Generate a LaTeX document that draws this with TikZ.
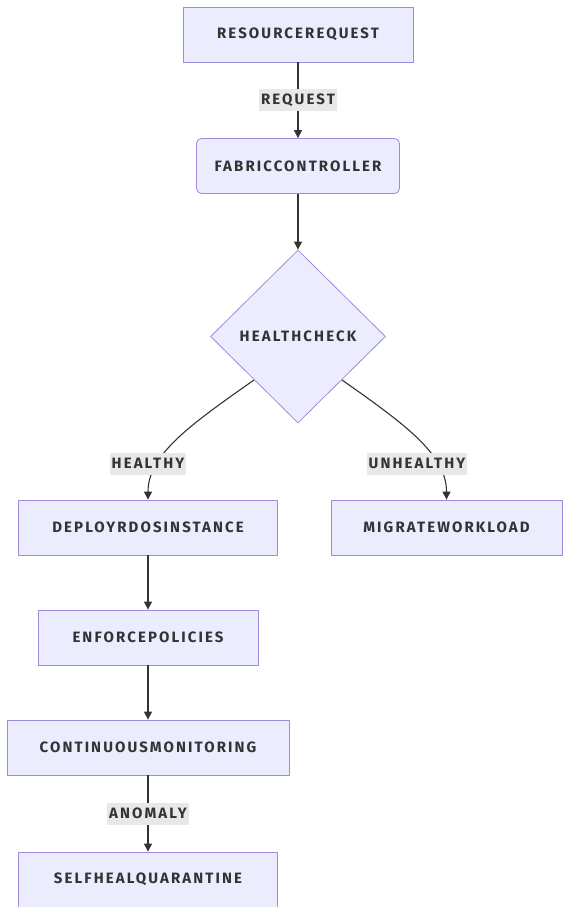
\documentclass[tikz,border=0pt]{standalone}
\usepackage{fontspec}
\setmainfont{Fira Sans}
\newfontfamily\chartfont[LetterSpace=14]{Fira Sans}
\usetikzlibrary{arrows.meta,shapes,positioning}
\definecolor{boxfill}{HTML}{ECECFF}
\definecolor{boxline}{HTML}{A08AE0}
\definecolor{lblfill}{HTML}{E8E8E8}
\definecolor{ink}{HTML}{333333}
\tikzset{
	every node/.style={
		font=\fontsize{15}{18}\chartfont\bfseries,
		text=ink
	},
	process/.style={
		shape=rectangle,
		minimum height=55pt,
		text centered,
		fill=boxfill,
		draw=boxline,
		line width=0.8pt
	},
	decision/.style={
		shape=diamond,
		minimum width=175pt,
		minimum height=173pt,
		inner sep=0pt,
		fill=boxfill,
		draw=boxline,
		line width=0.8pt
	},
	edgelabel/.style={
		fill=lblfill,
		minimum height=22pt,
		inner xsep=2pt
	},
	myarrow/.style={->,draw=ink,line width=1.1pt},
}

\begin{document}
\begin{tikzpicture}[x=1pt,y=-1pt,>={Triangle[length=8pt,width=8pt]}]
	\useasboundingbox (0,0) rectangle (562,907);

	\node[process, minimum width=230pt]                   (rr)   at (298,34.5)  {RESOURCEREQUEST};
	\node[process, minimum width=203pt, rounded corners=5pt] (fc) at (298,166) {FABRICCONTROLLER};
	\node[decision]                                       (hc)   at (298,336.5) {HEALTHCHECK};
	\node[process, minimum width=259pt]                   (dep)  at (148,527.5) {DEPLOYRDOSINSTANCE};
	\node[process, minimum width=231pt]                   (mig)  at (446.5,527.5) {MIGRATEWORKLOAD};
	\node[process, minimum width=220pt]                   (enf)  at (148,637.5) {ENFORCEPOLICIES};
	\node[process, minimum width=282pt]                   (mon)  at (148,747.5) {CONTINUOUSMONITORING};
	\node[process, minimum width=259pt]                   (heal) at (148,879.5) {SELFHEALQUARANTINE};

	\draw[myarrow] (rr) -- node[edgelabel] {REQUEST} (fc);
	\draw[myarrow] (fc) -- (hc);
	\draw[myarrow] (hc.south west) .. controls +(-64,45) and +(0,-45) .. (dep.north);
	\draw[myarrow] (hc.south east) .. controls +(64,45) and +(0,-45) .. (mig.north);
	\draw[myarrow] (dep) -- (enf);
	\draw[myarrow] (enf) -- (mon);
	\draw[myarrow] (mon) -- node[edgelabel] {ANOMALY} (heal);

	\node[edgelabel] (lh) at (148,463.5) {HEALTHY};
	\node[edgelabel] (lu) at (417,463.5) {UNHEALTHY};
\end{tikzpicture}
\end{document}
